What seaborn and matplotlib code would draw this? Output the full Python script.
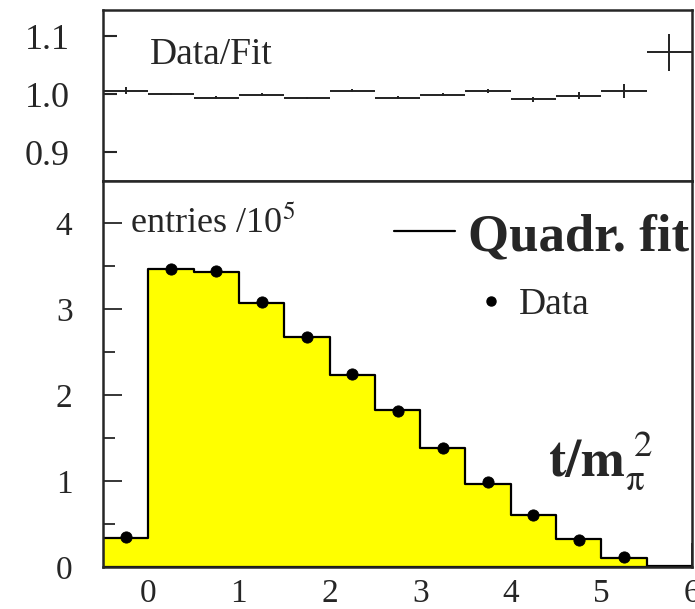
import numpy as np
import pandas as pd
import seaborn as sns
import matplotlib.pyplot as plt
from matplotlib.lines import Line2D
from matplotlib.ticker import MultipleLocator

# bin edges in t/m_pi^2 (width 0.5)
bin_edges = [-0.5, 0.0, 0.5, 1.0, 1.5, 2.0, 2.5, 3.0, 3.5, 4.0, 4.5, 5.0, 5.5, 6.0]
bin_centers = [-0.25, 0.25, 0.75, 1.25, 1.75, 2.25, 2.75, 3.25, 3.75, 4.25, 4.75, 5.25, 5.75]

# quadratic fit, entries / 10^5
fit_vals = [0.34, 3.47, 3.43, 3.07, 2.67, 2.23, 1.83, 1.38, 0.97, 0.61, 0.32, 0.11, 0.01]
# data points (no visible point in last bin)
data_vals = [0.35, 3.47, 3.44, 3.08, 2.67, 2.25, 1.82, 1.38, 0.99, 0.61, 0.31, 0.12]

# data / fit ratio with errors
ratio_vals = [1.006, 1.000, 0.994, 0.999, 0.993, 1.006, 0.994, 0.999, 1.005, 0.991, 0.997, 1.005, 1.072]
ratio_errs = [0.006, 0.002, 0.002, 0.002, 0.002, 0.002, 0.002, 0.003, 0.003, 0.004, 0.006, 0.012, 0.032]

sns.set_style("ticks")
plt.rcParams['font.family'] = ['Liberation Serif', 'DejaVu Serif']
plt.rcParams['mathtext.fontset'] = 'stix'

fig = plt.figure(figsize=(6.95, 6.09), dpi=100)
L, R = 103 / 695, 692 / 695
ax_top = fig.add_axes([L, 1 - 181 / 609, R - L, (181 - 10) / 609])
ax = fig.add_axes([L, 1 - 567 / 609, R - L, (567 - 181) / 609])

# --- lower panel: fit histogram + data ---
df_fit = pd.DataFrame({'t': bin_centers, 'w': fit_vals})
sns.histplot(data=df_fit, x='t', weights='w', bins=bin_edges, element='step',
             fill=True, color='#ffff00', edgecolor='black', linewidth=1.6,
             alpha=1, ax=ax)
df_data = pd.DataFrame({'t': bin_centers[:len(data_vals)], 'v': data_vals})
sns.scatterplot(data=df_data, x='t', y='v', color='black', s=65,
                edgecolor='black', zorder=5, ax=ax)

ax.set_xlim(-0.5, 6)
ax.set_ylim(0, 4.49)
ax.set_xlabel('')
ax.set_ylabel('')
ax.set_xticks([0, 1, 2, 3, 4, 5, 6])
ax.set_yticks([0, 1, 2, 3, 4])
ax.yaxis.set_minor_locator(MultipleLocator(0.5))
ax.tick_params(axis='x', direction='in', length=17, width=1.3, labelsize=24, pad=8)
ax.tick_params(axis='y', which='major', direction='in', length=14, width=1.3, labelsize=24, pad=22)
ax.tick_params(axis='y', which='minor', direction='in', length=8.5, width=1.3)
for s in ax.spines.values():
    s.set_linewidth(1.8)
    s.set_visible(True)

ax.text(-0.2, 4.0, r'entries /10$^5$', fontsize=26, ha='left', va='center')
ax.text(4.41, 1.24, r'$\mathbf{t/m}_{\mathrm{\pi}}^{\ 2}$', fontsize=38, ha='left', va='center')

leg1 = ax.legend(handles=[Line2D([], [], color='black', lw=1.6)], labels=['Quadr. fit'],
                 loc='center right', bbox_to_anchor=(0.995, 0.855), frameon=False,
                 borderpad=0, borderaxespad=0, handlelength=1.15, handletextpad=0.25,
                 prop={'family': 'Liberation Serif', 'weight': 'bold', 'size': 38})
ax.add_artist(leg1)
ax.legend(handles=[Line2D([], [], marker='o', color='black', ls='none', markersize=6.5)],
          labels=['Data'], loc='center right', bbox_to_anchor=(0.827, 0.679),
          frameon=False, borderpad=0, borderaxespad=0, handlelength=0.6,
          handletextpad=0.45, prop={'family': 'Liberation Serif', 'size': 27})

# --- upper panel: ratio ---
ax_top.errorbar(bin_centers, ratio_vals, xerr=0.25, yerr=ratio_errs, fmt='none',
                ecolor='#222222', elinewidth=1.4)
ax_top.set_xlim(-0.5, 6)
ax_top.set_ylim(0.85, 1.145)
ax_top.set_yticks([0.9, 1.0, 1.1])
ax_top.set_yticklabels(['0.9', '1.0', '1.1'])
ax_top.tick_params(axis='x', length=0, labelbottom=False)
ax_top.tick_params(axis='y', direction='in', length=10, width=1.5, labelsize=26, pad=24)
for s in ax_top.spines.values():
    s.set_linewidth(1.8)
    s.set_visible(True)
ax_top.text(0.02, 1.068, 'Data/Fit', fontsize=27, ha='left', va='center')

fig.savefig('out.png', dpi=100)
